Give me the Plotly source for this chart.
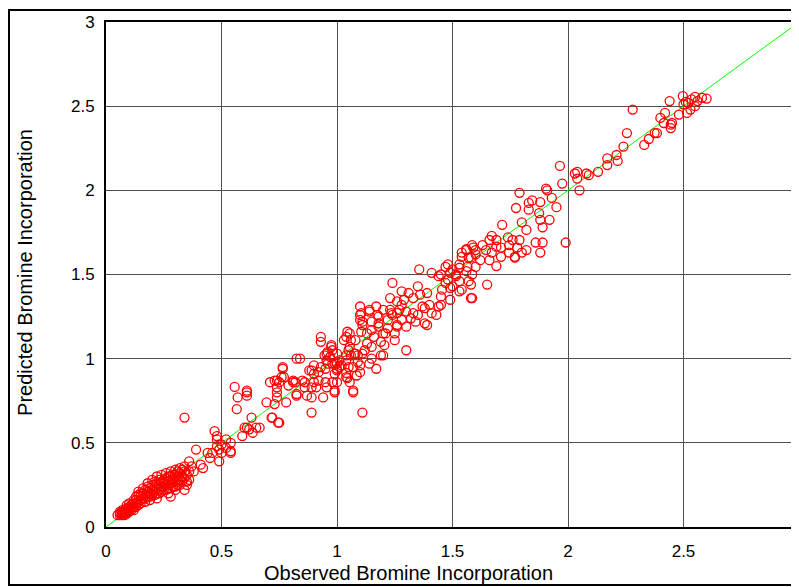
import plotly.graph_objects as go

# Observed vs predicted bromine incorporation, grouped by region of the plot
low_points = [
    (0.05,0.07),(0.06,0.07),(0.06,0.08),(0.07,0.07),(0.07,0.09),(0.08,0.08),(0.08,0.10),(0.09,0.09),
    (0.09,0.11),(0.10,0.10),(0.10,0.12),(0.11,0.11),(0.11,0.13),(0.12,0.12),(0.12,0.10),(0.13,0.14),
    (0.13,0.12),(0.14,0.15),(0.14,0.13),(0.15,0.16),(0.15,0.14),(0.12,0.16),(0.13,0.18),(0.14,0.19),
    (0.15,0.20),(0.06,0.09),(0.07,0.08),(0.08,0.07),(0.09,0.08),(0.10,0.09),(0.11,0.10),
    (0.16,0.17),(0.16,0.20),(0.17,0.15),(0.17,0.22),(0.18,0.18),(0.18,0.24),(0.19,0.20),(0.19,0.16),
    (0.20,0.22),(0.20,0.25),(0.21,0.19),(0.21,0.27),(0.22,0.23),(0.22,0.26),(0.23,0.20),(0.23,0.28),
    (0.24,0.24),(0.24,0.27),(0.25,0.22),(0.25,0.26),(0.26,0.25),(0.26,0.29),(0.27,0.23),(0.27,0.27),
    (0.28,0.26),(0.28,0.30),(0.29,0.24),(0.29,0.28),(0.30,0.27),(0.30,0.31),(0.31,0.25),(0.31,0.30),
    (0.32,0.28),(0.32,0.32),(0.33,0.27),(0.33,0.30),(0.34,0.29),(0.34,0.33),(0.35,0.31),(0.35,0.25),
    (0.36,0.28),(0.34,0.22),(0.18,0.21),(0.20,0.19),(0.22,0.20),(0.24,0.21),(0.26,0.22),(0.28,0.23),
    (0.30,0.24),(0.32,0.25),(0.15,0.18),(0.17,0.19),(0.19,0.23),(0.21,0.24),(0.23,0.25),(0.25,0.28),
    (0.27,0.30),(0.29,0.31),(0.31,0.33),(0.33,0.34),(0.34,0.65),(0.35,0.27),(0.28,0.18),(0.36,0.39),
    (0.39,0.46),(0.41,0.37),(0.42,0.35),(0.38,0.33),
    (0.20,0.28),(0.22,0.30),(0.24,0.31),(0.26,0.32),(0.28,0.33),(0.30,0.34),(0.18,0.26),(0.16,0.23),
    (0.14,0.21),(0.12,0.14),(0.10,0.14),(0.09,0.13),(0.32,0.35),(0.34,0.36),(0.36,0.33),(0.37,0.36),
    (0.30,0.22),(0.27,0.20),(0.22,0.17),(0.19,0.18),(0.25,0.24),(0.28,0.28),(0.31,0.28),(0.23,0.22),
    (0.21,0.21),(0.17,0.17),(0.13,0.16),(0.11,0.12),(0.08,0.09),(0.07,0.10),
]

mid_low_points = [
    (0.44,0.44),(0.45,0.41),(0.49,0.39),(0.47,0.57),(0.566,0.70),(0.61,0.59),(0.48,0.52),(0.50,0.49),
    (0.52,0.47),(0.54,0.45),(0.52,0.52),(0.50,0.44),(0.49,0.46),(0.557,0.832),(0.57,0.77),(0.61,0.80),
    (0.61,0.81),(0.61,0.78),(0.48,0.54),(0.48,0.48),(0.54,0.50),(0.46,0.44),(0.54,0.44),(0.59,0.54),
    (0.62,0.58),(0.63,0.65),(0.665,0.59),(0.635,0.56),(0.60,0.59),(0.717,0.65),(0.75,0.62),(0.695,0.74),
    (0.73,0.73),(0.74,0.80),(0.74,0.83),(0.73,0.87),(0.75,0.86),(0.765,0.95),(0.77,0.89),(0.78,0.74),
    (0.79,0.84),(0.82,0.86),(0.825,0.79),(0.81,0.87),(0.85,0.87),(0.86,0.86),(0.86,0.83),(0.87,0.78),
    (0.89,0.77),(0.91,0.83),(0.90,0.86),(0.95,0.86),(0.955,0.83),(0.825,1.0),(0.89,0.68),(0.99,0.80),
    (0.89,0.93),(0.90,0.96),(0.92,0.92),(0.95,0.94),(0.96,0.97),(0.97,1.01),(0.96,1.04),(0.975,1.07),
    (0.93,1.10),(0.93,1.13),(0.98,0.97),(0.84,1.0),(0.88,0.93),(0.90,0.91),(0.93,0.95),(0.92,0.87),
    (0.94,0.77),(0.765,0.94),(0.74,0.87),(0.76,0.89),(0.81,0.86),(0.89,0.83),(0.71,0.86),(0.74,0.77),
    (0.825,0.78),(0.72,0.65),(0.745,0.62),(0.65,0.59),(0.955,1.03),(0.946,1.02),(0.955,0.99),(0.99,0.97),
    (0.99,0.91),(0.99,0.81),(0.98,1.05),(0.976,1.08),(0.98,0.86),
]

mid_high_points = [
    (1.0,0.93),(1.0,0.97),(1.01,0.95),(1.04,0.89),(1.04,0.99),(1.05,0.95),(1.07,0.81),(1.04,1.13),
    (1.05,1.05),(1.075,1.03),(1.09,0.98),(1.0,1.03),(1.0,0.94),(1.0,0.86),(1.02,0.96),(1.04,1.02),
    (1.055,1.07),(1.06,1.11),(1.045,1.16),(1.055,1.15),(1.06,1.02),(1.045,0.885),(1.07,0.80),(1.085,0.90),
    (1.10,0.96),(1.09,1.02),(1.11,1.03),(1.11,0.68),(1.105,1.16),(1.10,1.23),(1.11,1.20),(1.105,1.27),
    (1.10,1.31),(1.13,1.09),(1.14,1.28),(1.15,1.00),(1.16,1.13),(1.17,1.31),(1.175,1.26),(1.18,1.19),
    (1.19,1.10),(1.20,1.02),(1.205,1.08),(1.21,1.15),(1.22,1.23),(1.23,1.29),(1.24,1.26),(1.25,1.15),
    (1.26,1.20),(1.26,1.27),(1.28,1.32),(1.28,1.23),(1.30,1.05),(1.30,1.19),(1.33,1.27),(1.34,1.22),
    (1.37,1.31),(1.38,1.21),(1.41,1.27),(1.45,1.32),
    (1.356,1.53),(1.24,1.45),(1.35,1.43),(1.28,1.40),(1.31,1.39),(1.23,1.36),(1.26,1.34),(1.29,1.35),
    (1.33,1.36),(1.36,1.38),(1.39,1.39),(1.20,1.29),(1.18,1.25),(1.14,1.29),(1.10,1.26),(1.11,1.22),
    (1.15,1.22),(1.18,1.21),(1.235,1.27),(1.27,1.29),(1.30,1.28),(1.32,1.24),(1.35,1.26),(1.38,1.30),
    (1.40,1.32),(1.43,1.26),(1.39,1.20),(1.03,1.11),(1.08,1.11),(1.13,1.15),(1.15,1.17),(1.20,1.15),
    (1.22,1.18),(1.26,1.19),(1.25,1.11),(1.19,1.02),(1.15,1.07),(1.12,1.05),(1.08,1.03),(1.01,0.99),
    (1.07,0.95),(1.10,0.92),(1.14,0.97),(1.17,0.94),(1.04,0.915),(1.055,0.86),(1.41,1.51),(1.44,1.49),
]

high_points = [
    (1.48,1.56),(1.50,1.53),(1.54,1.63),(1.56,1.65),(1.57,1.60),(1.59,1.66),(1.60,1.62),(1.515,1.49),
    (1.54,1.41),(1.585,1.36),(1.57,1.46),(1.47,1.45),(1.455,1.41),(1.50,1.43),(1.53,1.54),(1.56,1.52),
    (1.79,1.985),(1.83,1.925),(1.845,1.94),(1.88,1.93),(1.775,1.895),(1.83,1.885),(1.875,1.865),(1.80,1.81),
    (1.88,1.825),(1.92,1.825),(1.89,1.78),(1.715,1.795),(1.82,1.765),(1.86,1.69),(1.89,1.69),(1.88,1.63),
    (1.67,1.73),(1.66,1.705),(1.69,1.705),(1.74,1.72),(1.76,1.705),(1.79,1.705),(1.71,1.66),(1.745,1.675),
    (1.78,1.66),(1.82,1.645),(1.80,1.63),(1.77,1.605),(1.745,1.63),(1.69,1.665),(1.63,1.675),(1.585,1.675),
    (1.56,1.645),(1.60,1.645),(1.645,1.645),(1.67,1.63),(1.71,1.605),(1.66,1.585),(1.62,1.585),(1.58,1.60),
    (1.54,1.605),(1.53,1.56),(1.565,1.545),(1.60,1.545),(1.69,1.55),(1.77,1.60),(1.47,1.545),(1.49,1.51),
    (1.515,1.50),(1.585,1.50),(1.65,1.44),(1.58,1.44),(1.53,1.46),(1.48,1.47),(1.45,1.50),(1.49,1.42),
    (1.53,1.40),(1.58,1.36),(1.45,1.37),(1.49,1.35),(1.44,1.31),(1.905,2.01),(1.91,2.0),(1.93,1.955),
    (1.95,1.90),(1.99,1.69),
]

top_points = [
    (1.965,2.145),(2.03,2.10),(2.05,2.0),(2.08,2.10),(2.13,2.11),(2.17,2.15),(1.975,2.04),(2.04,2.11),
    (2.04,2.07),(2.09,2.09),(2.17,2.19),(2.215,2.175),(2.21,2.21),(2.24,2.26),(2.255,2.34),(2.28,2.48),
    (2.33,2.27),(2.35,2.305),(2.375,2.34),(2.385,2.34),(2.40,2.43),(2.415,2.40),(2.42,2.46),(2.445,2.39),
    (2.45,2.40),(2.445,2.37),(2.44,2.53),(2.48,2.45),(2.497,2.56),(2.51,2.525),(2.50,2.51),(2.52,2.52),
    (2.535,2.54),(2.55,2.555),(2.56,2.53),(2.58,2.55),(2.60,2.545),(2.55,2.50),(2.53,2.48),(2.515,2.46),
]

identity_x = [0, 3]
identity_y = [0, 3]
tick_vals = [0, 0.5, 1, 1.5, 2, 2.5, 3]
tick_text = ["0", "0.5", "1", "1.5", "2", "2.5", "3"]

all_points = low_points + mid_low_points + mid_high_points + high_points + top_points
observed = [p[0] for p in all_points]
predicted = [p[1] for p in all_points]

FONT = "Liberation Sans, Arial, sans-serif"

fig = go.Figure()
fig.add_trace(go.Scatter(x=identity_x, y=identity_y, mode="lines",
                         line=dict(color="#00ff00", width=1), hoverinfo="skip"))
fig.add_trace(go.Scatter(x=observed, y=predicted, mode="markers",
                         marker=dict(symbol="circle-open", size=9, color="#ff0000",
                                     line=dict(color="#ff0000", width=1.3))))

axis_common = dict(
    range=[0, 3], tickvals=tick_vals, ticktext=tick_text, showgrid=True,
    gridcolor="#505050", gridwidth=1, zeroline=False, showline=True,
    linecolor="black", linewidth=2, ticks="", tickfont=dict(family=FONT, size=17, color="black"),
    ticklabeloverflow="allow",
)

# the page body adds an 8px offset, so the figure is sized to fit the window
fig.update_layout(
    width=791, height=579,
    margin=dict(l=98, r=0, t=14, b=60, autoexpand=False),
    paper_bgcolor="white", plot_bgcolor="white",
    showlegend=False,
    xaxis=dict(**axis_common, mirror=True, ticklabelstandoff=8),
    yaxis=dict(**axis_common, ticklabelstandoff=6),
    annotations=[
        dict(text="Observed Bromine Incorporation", xref="paper", yref="paper",
             x=0.436, y=-0.092, xanchor="center", yanchor="middle", showarrow=False,
             font=dict(family=FONT, size=20, color="black")),
        dict(text="Predicted Bromine Incorporation", xref="paper", yref="paper",
             x=-0.117, y=0.505, xanchor="center", yanchor="middle", showarrow=False,
             textangle=-90, font=dict(family=FONT, size=20, color="black")),
    ],
    shapes=[
        dict(type="rect", xref="paper", yref="paper", x0=-0.1400, y0=-0.1148, x1=1.02, y1=1.0238,
             line=dict(color="black", width=2), layer="below"),
    ],
)

fig.write_html("out.html")
